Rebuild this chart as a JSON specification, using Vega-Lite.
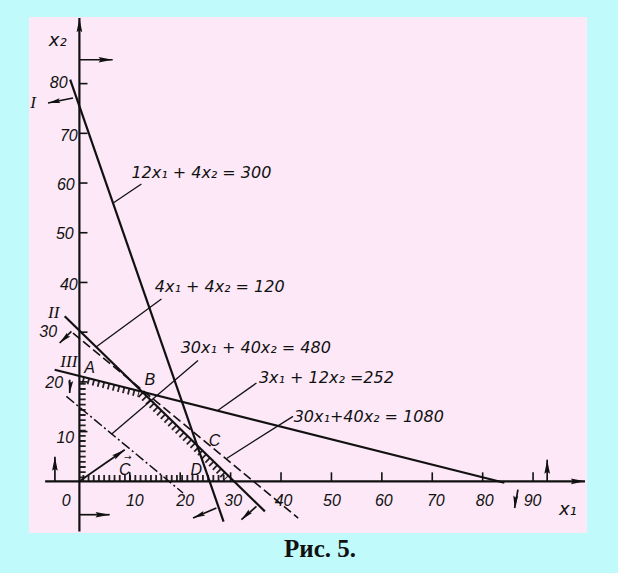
{
  "$schema": "https://vega.github.io/schema/vega-lite/v6.json",
  "width": 558,
  "height": 516,
  "autosize": {"type": "none"},
  "padding": {"left": 29, "top": 17, "right": 31, "bottom": 40},
  "background": "#c0fafa",
  "config": {"view": {"fill": "#fce8f7", "stroke": null}},
  "title": {"text": "Рис. 5.", "orient": "bottom", "font": "Liberation Serif", "fontSize": 25, "fontWeight": "bold", "color": "#111", "offset": 4, "dx": 12},
  "datasets": {
    "lines": [
      {"x": -1.83, "y": 80.8, "x2": 28.6, "y2": -8.1},
      {"x": -2.92, "y": 33.2, "x2": 36.8, "y2": -6.05},
      {"x": -4.9, "y": 22.45, "x2": 84.3, "y2": -0.3}
    ],
    "dash1080": [{"x": -1.27, "y": 29.8, "x2": 43.4, "y2": -7.4}],
    "dash480": [{"x": -2.58, "y": 17.08, "x2": 20.56, "y2": -2.35}],
    "leaders": [
      {"x": 12.3, "y": 59.8, "x2": 6.7, "y2": 56.0},
      {"x": 16.27, "y": 36.67, "x2": 3.3, "y2": 27.0},
      {"x": 23.53, "y": 24.32, "x2": 6.35, "y2": 9.45},
      {"x": 35.12, "y": 19.77, "x2": 27.5, "y2": 14.3},
      {"x": 42.38, "y": 13.06, "x2": 29.2, "y2": 4.6}
    ],
    "hatch": [
      {"x": 0.65, "y": 0.6, "x2": 0.65, "y2": 20.4},
      {"x": 0.6, "y": 0.65, "x2": 29.0, "y2": 0.65},
      {"x": 0.6, "y": 20.4, "x2": 11.8, "y2": 17.55},
      {"x": 12.0, "y": 17.5, "x2": 29.1, "y2": 0.55}
    ],
    "ticks": [
      {"x": 0, "y": 10, "x2": 1.6, "y2": 10},
      {"x": 0, "y": 20, "x2": 1.6, "y2": 20},
      {"x": 0, "y": 30, "x2": 1.6, "y2": 30},
      {"x": 0, "y": 40, "x2": 1.6, "y2": 40},
      {"x": 0, "y": 50, "x2": 1.6, "y2": 50},
      {"x": 0, "y": 60, "x2": 1.6, "y2": 60},
      {"x": 0, "y": 70, "x2": 1.6, "y2": 70},
      {"x": 0, "y": 80, "x2": 1.6, "y2": 80},
      {"x": 10, "y": 0, "x2": 10, "y2": 1.8},
      {"x": 20, "y": 0, "x2": 20, "y2": 1.8},
      {"x": 30, "y": 0, "x2": 30, "y2": 1.8},
      {"x": 40, "y": 0, "x2": 40, "y2": 1.8},
      {"x": 50, "y": 0, "x2": 50, "y2": 1.8},
      {"x": 60, "y": 0, "x2": 60, "y2": 1.8},
      {"x": 70, "y": 0, "x2": 70, "y2": 1.8},
      {"x": 80, "y": 0, "x2": 80, "y2": 1.8},
      {"x": 90, "y": 0, "x2": 90, "y2": 1.8}
    ],
    "arrows": [
      {"x": -6.8, "y": 0, "x2": 100.3, "y2": 0, "dir": "r", "kind": "axis"},
      {"x": 0, "y": -10.08, "x2": 0, "y2": 93.2, "dir": "u", "kind": "axis"},
      {"x": 0, "y": 84.8, "x2": 6.6, "y2": 84.8, "dir": "r", "kind": "arrow"},
      {"x": 0, "y": -6.72, "x2": 6.0, "y2": -6.72, "dir": "r", "kind": "arrow"},
      {"x": -4.86, "y": 0, "x2": -4.86, "y2": 4.95, "dir": "u", "kind": "arrow"},
      {"x": 92.8, "y": 0, "x2": 92.8, "y2": 4.35, "dir": "u", "kind": "arrow"},
      {"x": -1.27, "y": 77.1, "x2": -6.23, "y2": 76.1, "dir": "l", "kind": "arrow"},
      {"x": -1.59, "y": 30.15, "x2": -3.91, "y2": 27.82, "dir": "dl", "kind": "arrow"},
      {"x": -1.92, "y": 20.44, "x2": -1.92, "y2": 17.76, "dir": "d", "kind": "arrow"},
      {"x": 27.18, "y": -5.37, "x2": 22.54, "y2": -7.38, "dir": "dl2", "kind": "arrow"},
      {"x": 35.12, "y": -5.05, "x2": 32.14, "y2": -7.72, "dir": "dl", "kind": "arrow"},
      {"x": 87.0, "y": -1.69, "x2": 86.35, "y2": -5.37, "dir": "d", "kind": "arrow"},
      {"x": 0, "y": 0, "x2": 8.99, "y2": 6.36, "dir": "ur", "kind": "arrow"}
    ],
    "texts": [
      {"x": 24.2, "y": 62.1, "t": "12x₁ + 4x₂ = 300", "kind": "eq"},
      {"x": 27.84, "y": 39.15, "t": "4x₁ + 4x₂ = 120", "kind": "eq"},
      {"x": 34.98, "y": 26.88, "t": "30x₁ + 40x₂ = 480", "kind": "eq"},
      {"x": 49.0, "y": 20.84, "t": "3x₁ + 12x₂ =252", "kind": "eq"},
      {"x": 57.4, "y": 13.0, "t": "30x₁+40x₂ = 1080", "kind": "eq"},
      {"x": 2.04, "y": 22.8, "t": "A", "kind": "pt"},
      {"x": 13.95, "y": 20.44, "t": "B", "kind": "pt"},
      {"x": 26.8, "y": 8.03, "t": "C", "kind": "pt"},
      {"x": 23.2, "y": 2.33, "t": "D", "kind": "pt"},
      {"x": 9.0, "y": 2.33, "t": "C", "kind": "pt"},
      {"x": 9.6, "y": 4.9, "t": "→", "kind": "small"},
      {"x": -4.1, "y": 80.2, "t": "80", "kind": "tick"},
      {"x": -2.1, "y": 69.4, "t": "70", "kind": "tick"},
      {"x": -2.7, "y": 59.7, "t": "60", "kind": "tick"},
      {"x": -2.9, "y": 49.8, "t": "50", "kind": "tick"},
      {"x": -2.1, "y": 39.5, "t": "40", "kind": "tick"},
      {"x": -6.2, "y": 30.0, "t": "30", "kind": "tick"},
      {"x": -5.0, "y": 19.7, "t": "20", "kind": "tick"},
      {"x": -2.8, "y": 8.8, "t": "10", "kind": "tick"},
      {"x": -2.6, "y": -3.9, "t": "0", "kind": "tick"},
      {"x": 11.0, "y": -3.9, "t": "10", "kind": "tick"},
      {"x": 21.0, "y": -3.9, "t": "20", "kind": "tick"},
      {"x": 30.5, "y": -3.9, "t": "30", "kind": "tick"},
      {"x": 40.5, "y": -3.9, "t": "40", "kind": "tick"},
      {"x": 50.1, "y": -3.9, "t": "50", "kind": "tick"},
      {"x": 60.4, "y": -3.9, "t": "60", "kind": "tick"},
      {"x": 70.7, "y": -3.9, "t": "70", "kind": "tick"},
      {"x": 80.4, "y": -3.9, "t": "80", "kind": "tick"},
      {"x": 89.9, "y": -3.9, "t": "90", "kind": "tick"},
      {"x": 96.9, "y": -5.7, "t": "x₁", "kind": "axis"},
      {"x": -4.3, "y": 88.6, "t": "x₂", "kind": "axis"},
      {"x": -9.2, "y": 76.1, "t": "I", "kind": "roman"},
      {"x": -5.1, "y": 33.9, "t": "II", "kind": "roman"},
      {"x": -2.1, "y": 24.06, "t": "III", "kind": "roman"}
    ]
  },
  "encoding": {
    "x": {"field": "x", "type": "quantitative", "scale": {"domain": [-10, 100.7], "nice": false, "zero": false}, "axis": null},
    "y": {"field": "y", "type": "quantitative", "scale": {"domain": [-10.4, 93.4], "nice": false, "zero": false}, "axis": null}
  },
  "layer": [
    {"data": {"name": "hatch"}, "mark": {"type": "rule", "color": "#222", "strokeWidth": 6, "strokeDash": [1.8, 3.4]}, "encoding": {"x2": {"field": "x2"}, "y2": {"field": "y2"}}},
    {"data": {"name": "lines"}, "mark": {"type": "rule", "color": "#111", "strokeWidth": 2.2}, "encoding": {"x2": {"field": "x2"}, "y2": {"field": "y2"}}},
    {"data": {"name": "dash1080"}, "mark": {"type": "rule", "color": "#111", "strokeWidth": 1.6, "strokeDash": [9, 4]}, "encoding": {"x2": {"field": "x2"}, "y2": {"field": "y2"}}},
    {"data": {"name": "dash480"}, "mark": {"type": "rule", "color": "#111", "strokeWidth": 1.5, "strokeDash": [10, 3, 2, 3]}, "encoding": {"x2": {"field": "x2"}, "y2": {"field": "y2"}}},
    {"data": {"name": "leaders"}, "mark": {"type": "rule", "color": "#111", "strokeWidth": 1.3}, "encoding": {"x2": {"field": "x2"}, "y2": {"field": "y2"}}},
    {"data": {"name": "ticks"}, "mark": {"type": "rule", "color": "#111", "strokeWidth": 1.6}, "encoding": {"x2": {"field": "x2"}, "y2": {"field": "y2"}}},
    {"data": {"name": "arrows"}, "transform": [{"filter": "datum.kind === 'axis'"}], "mark": {"type": "rule", "color": "#111", "strokeWidth": 2.2}, "encoding": {"x2": {"field": "x2"}, "y2": {"field": "y2"}}},
    {"data": {"name": "arrows"}, "transform": [{"filter": "datum.kind === 'arrow'"}], "mark": {"type": "rule", "color": "#111", "strokeWidth": 1.7}, "encoding": {"x2": {"field": "x2"}, "y2": {"field": "y2"}}},
    {"data": {"name": "arrows"}, "transform": [{"filter": "datum.dir === 'r'"}], "mark": {"type": "point", "shape": "M0,0L0.4,2L0,1.7L-0.4,2Z", "filled": true, "color": "#111", "opacity": 1, "size": 200, "angle": 90, "strokeWidth": 0},
      "encoding": {"x": {"field": "x2", "type": "quantitative", "scale": {"domain": [-10, 100.7], "nice": false, "zero": false}, "axis": null}, "y": {"field": "y2", "type": "quantitative", "scale": {"domain": [-10.4, 93.4], "nice": false, "zero": false}, "axis": null}}},
    {"data": {"name": "arrows"}, "transform": [{"filter": "datum.dir === 'u'"}], "mark": {"type": "point", "shape": "M0,0L0.4,2L0,1.7L-0.4,2Z", "filled": true, "color": "#111", "opacity": 1, "size": 200, "angle": 0, "strokeWidth": 0},
      "encoding": {"x": {"field": "x2", "type": "quantitative", "scale": {"domain": [-10, 100.7], "nice": false, "zero": false}, "axis": null}, "y": {"field": "y2", "type": "quantitative", "scale": {"domain": [-10.4, 93.4], "nice": false, "zero": false}, "axis": null}}},
    {"data": {"name": "arrows"}, "transform": [{"filter": "datum.dir === 'l'"}], "mark": {"type": "point", "shape": "M0,0L0.4,2L0,1.7L-0.4,2Z", "filled": true, "color": "#111", "opacity": 1, "size": 150, "angle": 259, "strokeWidth": 0},
      "encoding": {"x": {"field": "x2", "type": "quantitative", "scale": {"domain": [-10, 100.7], "nice": false, "zero": false}, "axis": null}, "y": {"field": "y2", "type": "quantitative", "scale": {"domain": [-10.4, 93.4], "nice": false, "zero": false}, "axis": null}}},
    {"data": {"name": "arrows"}, "transform": [{"filter": "datum.dir === 'dl'"}], "mark": {"type": "point", "shape": "M0,0L0.4,2L0,1.7L-0.4,2Z", "filled": true, "color": "#111", "opacity": 1, "size": 150, "angle": 227, "strokeWidth": 0},
      "encoding": {"x": {"field": "x2", "type": "quantitative", "scale": {"domain": [-10, 100.7], "nice": false, "zero": false}, "axis": null}, "y": {"field": "y2", "type": "quantitative", "scale": {"domain": [-10.4, 93.4], "nice": false, "zero": false}, "axis": null}}},
    {"data": {"name": "arrows"}, "transform": [{"filter": "datum.dir === 'd'"}], "mark": {"type": "point", "shape": "M0,0L0.4,2L0,1.7L-0.4,2Z", "filled": true, "color": "#111", "opacity": 1, "size": 150, "angle": 185, "strokeWidth": 0},
      "encoding": {"x": {"field": "x2", "type": "quantitative", "scale": {"domain": [-10, 100.7], "nice": false, "zero": false}, "axis": null}, "y": {"field": "y2", "type": "quantitative", "scale": {"domain": [-10.4, 93.4], "nice": false, "zero": false}, "axis": null}}},
    {"data": {"name": "arrows"}, "transform": [{"filter": "datum.dir === 'dl2'"}], "mark": {"type": "point", "shape": "M0,0L0.4,2L0,1.7L-0.4,2Z", "filled": true, "color": "#111", "opacity": 1, "size": 150, "angle": 247, "strokeWidth": 0},
      "encoding": {"x": {"field": "x2", "type": "quantitative", "scale": {"domain": [-10, 100.7], "nice": false, "zero": false}, "axis": null}, "y": {"field": "y2", "type": "quantitative", "scale": {"domain": [-10.4, 93.4], "nice": false, "zero": false}, "axis": null}}},
    {"data": {"name": "arrows"}, "transform": [{"filter": "datum.dir === 'ur'"}], "mark": {"type": "point", "shape": "M0,0L0.4,2L0,1.7L-0.4,2Z", "filled": true, "color": "#111", "opacity": 1, "size": 180, "angle": 55, "strokeWidth": 0},
      "encoding": {"x": {"field": "x2", "type": "quantitative", "scale": {"domain": [-10, 100.7], "nice": false, "zero": false}, "axis": null}, "y": {"field": "y2", "type": "quantitative", "scale": {"domain": [-10.4, 93.4], "nice": false, "zero": false}, "axis": null}}},
    {"data": {"name": "texts"}, "transform": [{"filter": "datum.kind === 'eq'"}], "mark": {"type": "text", "font": "DejaVu Sans", "fontStyle": "italic", "fontSize": 16, "color": "#111", "align": "center", "baseline": "middle"}, "encoding": {"text": {"field": "t"}}},
    {"data": {"name": "texts"}, "transform": [{"filter": "datum.kind === 'pt'"}], "mark": {"type": "text", "font": "Liberation Sans", "fontStyle": "italic", "fontSize": 16, "color": "#111", "align": "center", "baseline": "middle"}, "encoding": {"text": {"field": "t"}}},
    {"data": {"name": "texts"}, "transform": [{"filter": "datum.kind === 'small'"}], "mark": {"type": "text", "font": "DejaVu Sans", "fontSize": 9, "color": "#111", "align": "center", "baseline": "middle"}, "encoding": {"text": {"field": "t"}}},
    {"data": {"name": "texts"}, "transform": [{"filter": "datum.kind === 'tick'"}], "mark": {"type": "text", "font": "Liberation Sans Narrow, Liberation Sans", "fontStyle": "italic", "fontSize": 16, "color": "#111", "align": "center", "baseline": "middle"}, "encoding": {"text": {"field": "t"}}},
    {"data": {"name": "texts"}, "transform": [{"filter": "datum.kind === 'axis'"}], "mark": {"type": "text", "font": "DejaVu Sans", "fontStyle": "italic", "fontSize": 18, "color": "#111", "align": "center", "baseline": "middle"}, "encoding": {"text": {"field": "t"}}},
    {"data": {"name": "texts"}, "transform": [{"filter": "datum.kind === 'roman'"}], "mark": {"type": "text", "font": "Liberation Serif", "fontStyle": "italic", "fontSize": 17, "color": "#111", "align": "center", "baseline": "middle"}, "encoding": {"text": {"field": "t"}}}
  ]
}
